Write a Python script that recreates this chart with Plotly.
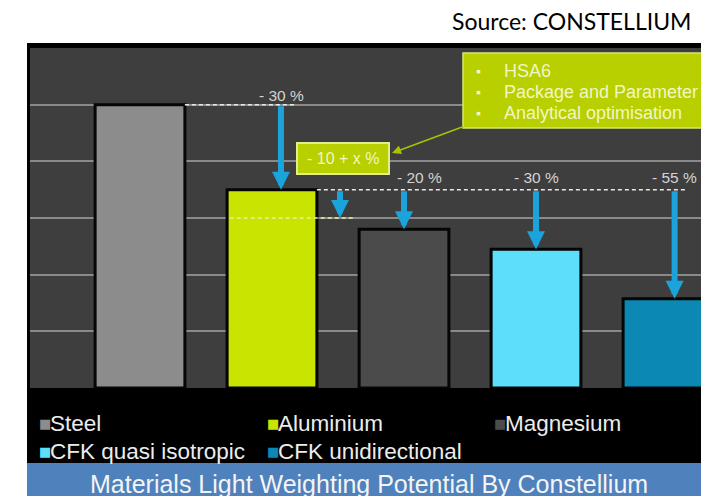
import plotly.graph_objects as go

# data (relative weight, steel = 5)
materials = ['Steel', 'Aluminium', 'Magnesium', 'CFK quasi isotropic', 'CFK unidirectional']
weights = [5.0, 3.5, 2.8, 2.45, 1.575]
bar_colors = ['#8c8c8c', '#c8e400', '#4b4b4b', '#5ddffb', '#0b89b4']
reductions = ['- 30 %', '- 20 %', '- 30 %', '- 55 %']
box_items = ['HSA6', 'Package and Parameter studies', 'Analytical optimisation']

# page pixels (the browser puts the figure 8px in from the corner)
OFF = 8
PL, PR, PT, PB = 30, 709, 48, 388
W, H = 709 - OFF, 496 - OFF
x0 = -110 / 132
x1 = x0 + (PR - PL) / 132

def px2x(p):
    return x0 + (p - PL) / 132

def py2y(p):
    return (PB - p) * 6 / (PB - PT)

def paperx(p):
    return (p - PL) / (PR - PL)

def papery(p):
    return (PB - p) / (PB - PT)

fig = go.Figure()
fig.add_trace(go.Bar(
    x=list(range(len(materials))), y=weights, width=0.68,
    marker=dict(color=bar_colors, line=dict(color='#050505', width=3)),
    hoverinfo='skip', showlegend=False))

shapes = []
# black slide panel, plot area and blue banner
shapes.append(dict(type='rect', xref='paper', yref='paper', x0=paperx(27), x1=1.02,
                   y0=papery(463), y1=papery(43), fillcolor='#000000', line=dict(width=0), layer='below'))
shapes.append(dict(type='rect', xref='paper', yref='paper', x0=0, x1=1.02, y0=0, y1=1,
                   fillcolor='#3e3e3e', line=dict(width=0), layer='below'))
shapes.append(dict(type='rect', xref='paper', yref='paper', x0=paperx(27), x1=1.02,
                   y0=papery(500), y1=papery(463), fillcolor='#4f81bd', line=dict(width=0), layer='below'))

# dashed reference lines
dash = dict(color='#e8e8e8', width=1.5, dash='4px,3px')
shapes.append(dict(type='line', x0=0.34, x1=1.17, y0=weights[0], y1=weights[0], line=dash))
shapes.append(dict(type='line', x0=1.34, x1=4.13, y0=weights[1], y1=weights[1], line=dash))
shapes.append(dict(type='line', x0=0.68, x1=1.62, y0=3.0, y1=3.0,
                   line=dict(color='#e8f0a0', width=1.5, dash='4px,3px')))

# green call-out boxes
shapes.append(dict(type='rect', x0=px2x(297), x1=px2x(389), y0=py2y(174), y1=py2y(143),
                   fillcolor='#b8cf00', line=dict(color='#e2ee8a', width=2)))
shapes.append(dict(type='rect', x0=px2x(463), x1=px2x(725), y0=py2y(128), y1=py2y(53),
                   fillcolor='#b8cf00', line=dict(color='#d8e870', width=1.5)))

annotations = []
# blue arrows from the reference level down to each bar
arrow_x = [1.068, 2.0, 3.0, 4.05]
starts = [weights[0], weights[1], weights[1], weights[1]]
ends = [weights[1], weights[2], weights[3], weights[4]]
for xa, ys, ye in zip(arrow_x, starts, ends):
    annotations.append(dict(x=xa, y=ye, ax=xa, ay=ys, xref='x', yref='y', axref='x', ayref='y',
                            text='', showarrow=True, arrowhead=2, arrowsize=0.6,
                            arrowwidth=6, arrowcolor='#1ba3dc', standoff=0))
# short arrow for the -10 % step
annotations.append(dict(x=1.515, y=3.0, ax=1.515, ay=weights[1], xref='x', yref='y',
                        axref='x', ayref='y', text='', showarrow=True, arrowhead=2,
                        arrowsize=0.6, arrowwidth=6, arrowcolor='#1ba3dc', standoff=0))

label_pos = [(1.07, 5.17), (2.12, 3.72), (3.0, 3.72), (4.05, 3.72)]
for (xl, yl), t in zip(label_pos, reductions):
    annotations.append(dict(x=xl, y=yl, text=t, showarrow=False,
                            font=dict(size=15.5, color='#d4d4d4', family='Liberation Sans')))

# connector from the big box to the small one
annotations.append(dict(x=px2x(392), y=py2y(153), ax=px2x(465), ay=py2y(126), xref='x', yref='y',
                        axref='x', ayref='y', text='', showarrow=True, arrowhead=2, arrowsize=1.2,
                        arrowwidth=1.5, arrowcolor='#a8c400', standoff=0))
annotations.append(dict(x=px2x(343), y=py2y(158.5), text='- 10 + x %', showarrow=False,
                        font=dict(size=16, color='#f2f6c6', family='Liberation Sans')))
for i, t in enumerate(box_items):
    yy = py2y(71 + i * 21)
    annotations.append(dict(x=px2x(474), y=yy, text='▪', showarrow=False, xanchor='left',
                            font=dict(size=14, color='#f2f6c6', family='Liberation Sans')))
    annotations.append(dict(x=px2x(502), y=yy, text=t, showarrow=False, xanchor='left',
                            font=dict(size=18, color='#f2f6c6', family='Liberation Sans')))

# legend, laid out on the slide's grid
legend_xy = [(37, 423), (265, 423), (492, 423), (37, 451), (265, 451)]
for (lx, ly), m, c in zip(legend_xy, materials, bar_colors):
    annotations.append(dict(xref='paper', yref='paper', x=paperx(lx), y=papery(ly),
                            xanchor='left', yanchor='middle', text='■', showarrow=False,
                            font=dict(size=13, color=c, family='DejaVu Sans')))
    annotations.append(dict(xref='paper', yref='paper', x=paperx(lx + 11), y=papery(ly),
                            xanchor='left', yanchor='middle', text=m, showarrow=False,
                            font=dict(size=22.5, color='#ececec', family='Liberation Sans')))

annotations.append(dict(xref='paper', yref='paper', x=paperx(369), y=papery(484),
                        text='Materials Light Weighting Potential By Constellium', showarrow=False,
                        yanchor='middle', font=dict(size=25, color='#f4f4f4', family='Liberation Sans')))
annotations.append(dict(xref='paper', yref='paper', x=paperx(693), y=papery(21), xanchor='right',
                        yanchor='middle', text='Source: CONSTELLIUM', showarrow=False,
                        font=dict(size=23, color='#000000', family='Lato')))

fig.update_layout(
    width=W, height=H,
    margin=dict(l=PL - OFF, r=0, t=PT - OFF, b=H - (PB - OFF), autoexpand=False),
    paper_bgcolor='white', plot_bgcolor='#3e3e3e',
    shapes=shapes, annotations=annotations, hovermode=False,
    xaxis=dict(range=[x0, x1], showticklabels=False, showgrid=False, zeroline=False, fixedrange=True),
    yaxis=dict(range=[0, 6], dtick=1, showticklabels=False, gridcolor='#8a8a8a', gridwidth=1.5,
               zeroline=False, fixedrange=True))

fig.write_html("out.html")
